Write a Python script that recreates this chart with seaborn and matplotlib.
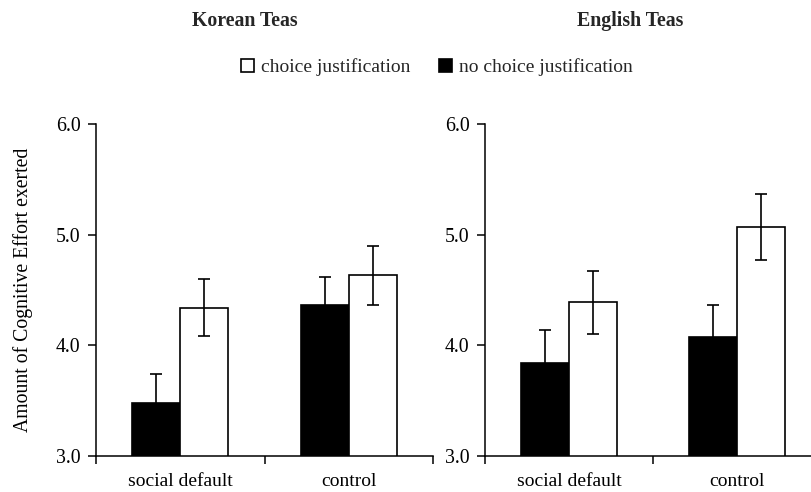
import matplotlib
matplotlib.use("Agg")
import matplotlib.pyplot as plt
from matplotlib.patches import Patch
import seaborn as sns
import pandas as pd
import numpy as np

# ---- data ----
conditions = ["social default", "control"]
justification = ["no choice justification", "choice justification"]
korean_means = {"no choice justification": [3.48, 4.36], "choice justification": [4.34, 4.63]}
korean_err = {"no choice justification": [0.26, 0.26], "choice justification": [0.26, 0.265]}
english_means = {"no choice justification": [3.84, 4.07], "choice justification": [4.39, 5.07]}
english_err = {"no choice justification": [0.30, 0.29], "choice justification": [0.285, 0.30]}
panel_titles = ["Korean Teas", "English Teas"]
y_ticks = [3.0, 4.0, 5.0, 6.0]
y_label = "Amount of Cognitive Effort exerted"

sns.set_style("ticks")
plt.rcParams["font.family"] = ["Liberation Serif", "DejaVu Serif"]

W, H = 812, 492
fig = plt.figure(figsize=(W / 100, H / 100), dpi=100)

def make_df(means):
    rows = []
    for j in justification:
        for c, v in zip(conditions, means[j]):
            rows.append({"condition": c, "justification": j, "value": v})
    return pd.DataFrame(rows)

axes_px = [(96, 433), (485, 821)]
top_px, bot_px = 124, 455.7
palette = {"no choice justification": "black", "choice justification": "white"}

for k, (means, errs) in enumerate([(korean_means, korean_err), (english_means, english_err)]):
    x0, x1 = axes_px[k]
    ax = fig.add_axes([x0 / W, 1 - bot_px / H, (x1 - x0) / W, (bot_px - top_px) / H])
    df = make_df(means)
    sns.barplot(data=df, x="condition", y="value", hue="justification",
                order=conditions, hue_order=justification, palette=palette,
                width=0.57, errorbar=None, edgecolor="black", linewidth=1.2,
                ax=ax, legend=False)
    # error bars from bar geometry
    patches = [p for p in ax.patches if p.get_width() > 0]
    err_list = errs[justification[0]] + errs[justification[1]]
    for p, e in zip(patches, err_list):
        xc = p.get_x() + p.get_width() / 2
        ax.errorbar(xc, p.get_height(), yerr=e, fmt="none", ecolor="black",
                    elinewidth=1.2, capsize=4.5, capthick=1.2, zorder=5)
    ax.set_ylim(3.0, 6.0)
    ax.set_xlim(-0.5, 1.5)
    ax.set_yticks(y_ticks)
    ax.set_yticklabels([f"{t:.1f}" for t in y_ticks])
    ax.set_xticks([0, 1])
    ax.set_xticklabels(conditions)
    ax.set_xticks([-0.5, 0.5, 1.5], minor=True)
    ax.tick_params(axis="x", which="major", length=0, pad=12.5, labelsize=14, colors="black")
    ax.tick_params(axis="x", which="minor", length=6, width=1.1, direction="out", color="black")
    ax.tick_params(axis="y", length=6, width=1.1, direction="out", labelsize=14.3, pad=5, colors="black")
    for s in ["top", "right"]:
        ax.spines[s].set_visible(False)
    for s in ["left", "bottom"]:
        ax.spines[s].set_color("black")
        ax.spines[s].set_linewidth(1.1)
    ax.set_xlabel("")
    ax.set_facecolor("white")
    if k == 0:
        ax.set_ylabel(y_label, fontsize=14.2, color="black")
        ax.yaxis.set_label_coords(-0.187, 0.5)
    else:
        ax.set_ylabel("")

fig.text(245 / W, 1 - 21 / H, panel_titles[0], ha="center", va="center",
         fontsize=14.3, fontweight="bold")
fig.text(630 / W, 1 - 21 / H, panel_titles[1], ha="center", va="center",
         fontsize=14.3, fontweight="bold")

handles = [Patch(facecolor="white", edgecolor="black", linewidth=1.2),
           Patch(facecolor="black", edgecolor="black", linewidth=1.2)]
fig.legend(handles, ["choice justification", "no choice justification"],
           loc="center", bbox_to_anchor=(437 / W, 1 - 67 / H), ncol=2, frameon=False,
           fontsize=14, handlelength=0.65, handleheight=0.65, handletextpad=0.35,
           columnspacing=1.5, borderpad=0)

fig.savefig("out.png", dpi=100, facecolor="white")
